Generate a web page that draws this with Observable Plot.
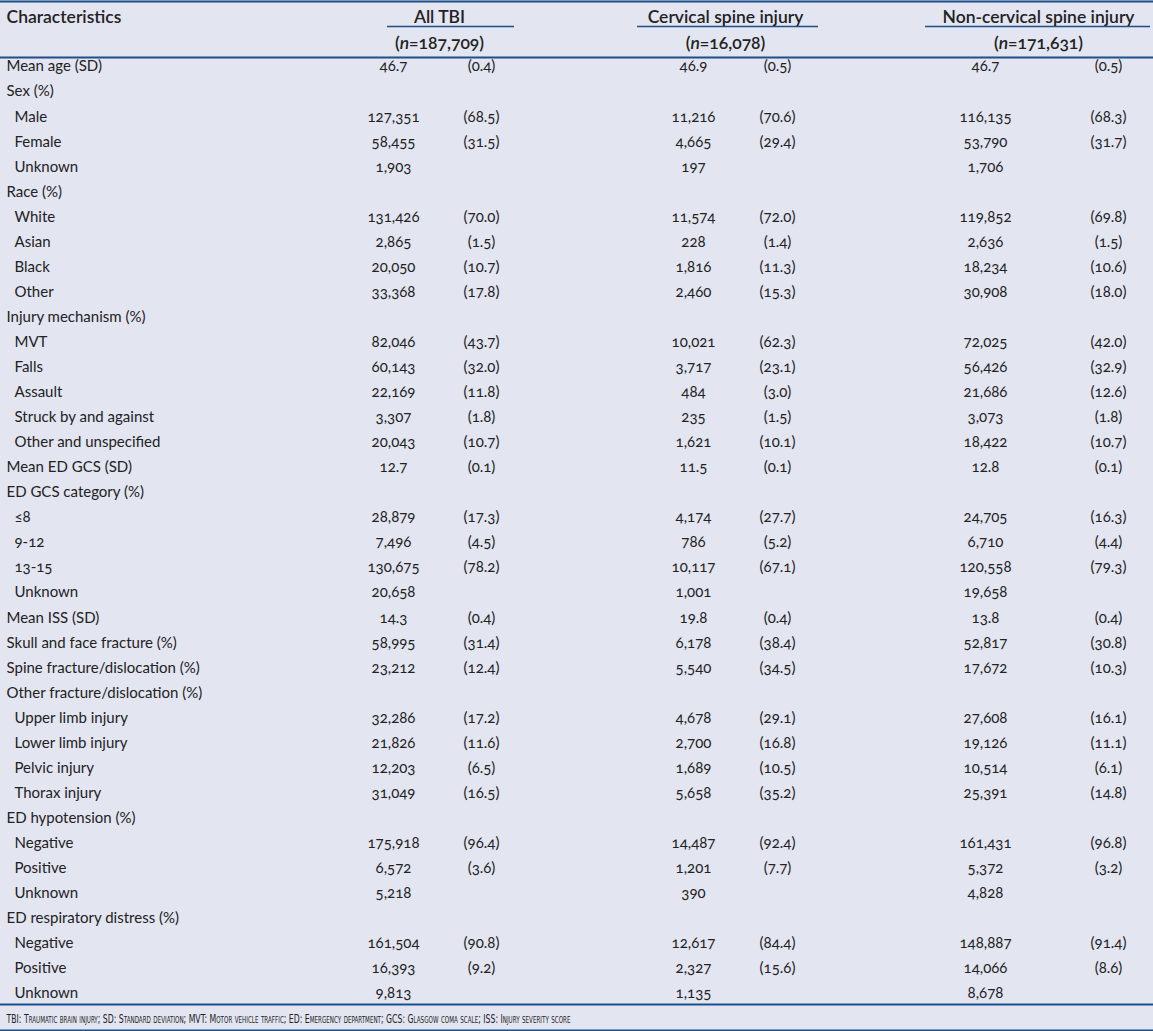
<!DOCTYPE html>
<html>
<head>
<meta charset="utf-8">
<script src="https://cdn.jsdelivr.net/npm/d3@7"></script>
<script src="https://cdn.jsdelivr.net/npm/@observablehq/plot@0.6"></script>
<style>
  body { margin: 0; background: #e3e5f1; }
  #chart svg { display: block; }
</style>
</head>
<body>
<div id="chart"></div>
<script>
// ---------- DATA ----------
const rowLabels = [
  "Mean age (SD)", "Sex (%)", "Male", "Female", "Unknown",
  "Race (%)", "White", "Asian", "Black", "Other",
  "Injury mechanism (%)", "MVT", "Falls", "Assault", "Struck by and against", "Other and unspecified",
  "Mean ED GCS (SD)", "ED GCS category (%)", "≤8", "9-12", "13-15", "Unknown",
  "Mean ISS (SD)", "Skull and face fracture (%)", "Spine fracture/dislocation (%)",
  "Other fracture/dislocation (%)", "Upper limb injury", "Lower limb injury", "Pelvic injury", "Thorax injury",
  "ED hypotension (%)", "Negative", "Positive", "Unknown",
  "ED respiratory distress (%)", "Negative", "Positive", "Unknown"
];
const rowLevel = [
  0, 0, 1, 1, 1,
  0, 1, 1, 1, 1,
  0, 1, 1, 1, 1, 1,
  0, 0, 1, 1, 1, 1,
  0, 0, 0,
  0, 1, 1, 1, 1,
  0, 1, 1, 1,
  0, 1, 1, 1
];
const allTbiCount = [
  46.7, null, 127351, 58455, 1903,
  null, 131426, 2865, 20050, 33368,
  null, 82046, 60143, 22169, 3307, 20043,
  12.7, null, 28879, 7496, 130675, 20658,
  14.3, 58995, 23212,
  null, 32286, 21826, 12203, 31049,
  null, 175918, 6572, 5218,
  null, 161504, 16393, 9813
];
const allTbiPct = [
  0.4, null, 68.5, 31.5, null,
  null, 70.0, 1.5, 10.7, 17.8,
  null, 43.7, 32.0, 11.8, 1.8, 10.7,
  0.1, null, 17.3, 4.5, 78.2, null,
  0.4, 31.4, 12.4,
  null, 17.2, 11.6, 6.5, 16.5,
  null, 96.4, 3.6, null,
  null, 90.8, 9.2, null
];
const cervicalCount = [
  46.9, null, 11216, 4665, 197,
  null, 11574, 228, 1816, 2460,
  null, 10021, 3717, 484, 235, 1621,
  11.5, null, 4174, 786, 10117, 1001,
  19.8, 6178, 5540,
  null, 4678, 2700, 1689, 5658,
  null, 14487, 1201, 390,
  null, 12617, 2327, 1135
];
const cervicalPct = [
  0.5, null, 70.6, 29.4, null,
  null, 72.0, 1.4, 11.3, 15.3,
  null, 62.3, 23.1, 3.0, 1.5, 10.1,
  0.1, null, 27.7, 5.2, 67.1, null,
  0.4, 38.4, 34.5,
  null, 29.1, 16.8, 10.5, 35.2,
  null, 92.4, 7.7, null,
  null, 84.4, 15.6, null
];
const nonCervicalCount = [
  46.7, null, 116135, 53790, 1706,
  null, 119852, 2636, 18234, 30908,
  null, 72025, 56426, 21686, 3073, 18422,
  12.8, null, 24705, 6710, 120558, 19658,
  13.8, 52817, 17672,
  null, 27608, 19126, 10514, 25391,
  null, 161431, 5372, 4828,
  null, 148887, 14066, 8678
];
const nonCervicalPct = [
  0.5, null, 68.3, 31.7, null,
  null, 69.8, 1.5, 10.6, 18.0,
  null, 42.0, 32.9, 12.6, 1.8, 10.7,
  0.1, null, 16.3, 4.4, 79.3, null,
  0.4, 30.8, 10.3,
  null, 16.1, 11.1, 6.1, 14.8,
  null, 96.8, 3.2, null,
  null, 91.4, 8.6, null
];
const headerLabel = "Characteristics";
const groupNames = ["All TBI", "Cervical spine injury", "Non-cervical spine injury"];
const groupN = [187709, 16078, 171631];
const footnote = "TBI: Traumatic brain injury; SD: Standard deviation; MVT: Motor vehicle traffic; ED: Emergency department; GCS: Glasgow coma scale; ISS: Injury severity score";

// ---------- LAYOUT ----------
const W = 1153, H = 1031;
const layout = {
  labelX: 6, indentX: 14,
  countX: [393, 693, 985],
  pctX: [481, 777, 1108],
  headX: [439, 725, 1038],
  underline: [[387, 514], [637, 818], [925, 1150]],
  headRow: 0.04,
  nRow: 1.08,
  firstDataRow: 2,
  footRow: 40,
  rules: [-0.6, 1.64, 39.44, 40.48],
  underlineRow: 0.4,
  footWidth: 564
};
const ink = "#222";
const lineColor = "#1d4f88";
const fontMain = "Lato, 'Open Sans', sans-serif";

// ---------- TABLE ----------
const counts = [allTbiCount, cervicalCount, nonCervicalCount];
const pcts = [allTbiPct, cervicalPct, nonCervicalPct];
const fmtCount = v => Number.isInteger(v) ? d3.format(",")(v) : v.toFixed(1);
const fmtPct = v => `(${v.toFixed(1)})`;

const labelCells = rowLabels.map((t, i) => ({
  row: i + layout.firstDataRow,
  x: rowLevel[i] ? layout.indentX : layout.labelX,
  text: t
}));
const valueCells = [];
rowLabels.forEach((_, i) => {
  for (let g = 0; g < 3; g++) {
    if (counts[g][i] != null) valueCells.push({row: i + layout.firstDataRow, x: layout.countX[g], text: fmtCount(counts[g][i])});
    if (pcts[g][i] != null) valueCells.push({row: i + layout.firstDataRow, x: layout.pctX[g], text: fmtPct(pcts[g][i])});
  }
});
const groupCells = groupNames.map((t, g) => ({row: layout.headRow, x: layout.headX[g], text: t}));
const nCells = groupN.map((n, g) => ({row: layout.nRow, x: layout.headX[g], text: `(n=${d3.format(",")(n)})`}));

const plot = Plot.plot({
  width: W, height: H,
  marginLeft: 0, marginRight: 0, marginTop: 16, marginBottom: 13,
  x: {domain: [0, W], axis: null},
  y: {domain: [0, layout.footRow], axis: null, reverse: true},
  style: {background: "#e3e5f1", fontFamily: fontMain, color: ink, overflow: "visible"},
  marks: [
    Plot.ruleY(layout.rules, {stroke: lineColor, strokeWidth: 2}),
    Plot.ruleY(layout.underline, {y: () => layout.underlineRow, x1: d => d[0], x2: d => d[1], stroke: lineColor, strokeWidth: 1.3}),
    Plot.text([headerLabel], {x: layout.labelX, y: layout.headRow, text: d => d, textAnchor: "start", fontSize: 17.5, fontWeight: 600, fill: ink}),
    Plot.text(groupCells, {x: "x", y: "row", text: "text", fontSize: 17.5, fontWeight: 600, fill: ink}),
    Plot.text(nCells, {x: "x", y: "row", text: "text", fontSize: 17.5, fontWeight: 600, fill: ink}),
    Plot.text(labelCells, {x: "x", y: "row", text: "text", textAnchor: "start", fontSize: 15, fill: ink}),
    Plot.text(valueCells, {x: "x", y: "row", text: "text", fontSize: 15, fill: ink}),
    Plot.text([footnote], {x: layout.labelX, y: layout.footRow, text: d => d, textAnchor: "start", fontSize: 12.5, fontVariant: "small-caps", fontFamily: "'Liberation Sans Narrow', 'DejaVu Sans Condensed', sans-serif", fill: ink})
  ]
});

const svg = d3.select(plot);
// old-style numerals like the reference typeface
svg.style("font-variant-numeric", "oldstyle-nums");
svg.selectAll("text").each(function() {
  const t = this.textContent;
  const sel = d3.select(this);
  // italic "n" in the sample size labels
  const m = /^\(n=(.*)\)$/.exec(t);
  if (m) {
    sel.text(null);
    sel.append("tspan").text("(");
    sel.append("tspan").attr("font-style", "italic").text("n");
    sel.append("tspan").text(`=${m[1]})`);
  }
  // condensed footnote, fitted to the reference's width
  if (t === footnote) {
    sel.attr("textLength", layout.footWidth).attr("lengthAdjust", "spacingAndGlyphs");
  }
});
document.getElementById("chart").append(plot);
</script>
</body>
</html>
